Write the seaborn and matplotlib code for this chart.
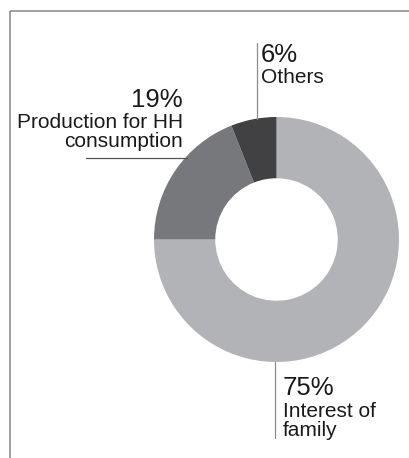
import matplotlib
matplotlib.use("Agg")
import matplotlib.pyplot as plt
import seaborn as sns

# ---- data ----
categories = ["Interest of family", "Production for HH consumption", "Others"]
shares = [75, 19, 6]
pct_labels = ["75%", "19%", "6%"]
colors = ["#b1b3b6", "#77787b", "#414042"]

sns.set_theme(style="white")
plt.rcParams["font.family"] = ["Liberation Sans", "DejaVu Sans"]

W, H = 409, 458
fig = plt.figure(figsize=(W / 100, H / 100), dpi=100)
ax = fig.add_axes([0, 0, 1, 1])

def Y(y):
    return H - y

cx, cy, R = 276.5, 239.5, 122.5
ax.pie(shares, colors=colors, startangle=90, counterclock=False,
       center=(cx, Y(cy)), radius=R, frame=True,
       wedgeprops=dict(width=R * 0.5, linewidth=0))
ax.set_xlim(0, W)
ax.set_ylim(0, H)
ax.set_aspect("equal")
ax.axis("off")

# frame lines
fc = "#858585"
ax.plot([9.5, 9.5], [Y(10.5), Y(H + 2)], color=fc, lw=1.1, solid_capstyle="butt")
ax.plot([9.5, W + 2], [Y(10.5), Y(10.5)], color=fc, lw=1.1, solid_capstyle="butt")

# leader lines
lc = "#8c8c8c"
ax.plot([257, 257], [Y(43), Y(119)], color=lc, lw=0.9)
ax.plot([86, 187], [Y(157.5), Y(157.5)], color="#555555", lw=0.9)
ax.plot([275, 275], [Y(362), Y(438)], color=lc, lw=0.9)

big, small = 18.5, 15
tc = "#1a1a1a"
# 6% Others
ax.text(261, Y(62), pct_labels[2], fontsize=big, color=tc, ha="left", va="baseline")
ax.text(261, Y(83), categories[2], fontsize=small, color=tc, ha="left", va="baseline")
# 19% Production
ax.text(183, Y(107), pct_labels[1], fontsize=big, color=tc, ha="right", va="baseline")
ax.text(183, Y(128), "Production for HH", fontsize=small, color=tc, ha="right", va="baseline")
ax.text(183, Y(147), "consumption", fontsize=small, color=tc, ha="right", va="baseline")
# 75% Interest
ax.text(283, Y(395), pct_labels[0], fontsize=big, color=tc, ha="left", va="baseline")
ax.text(283, Y(417), "Interest of", fontsize=small, color=tc, ha="left", va="baseline")
ax.text(283, Y(436), "family", fontsize=small, color=tc, ha="left", va="baseline")

fig.savefig("out.png", dpi=100, facecolor="white")
